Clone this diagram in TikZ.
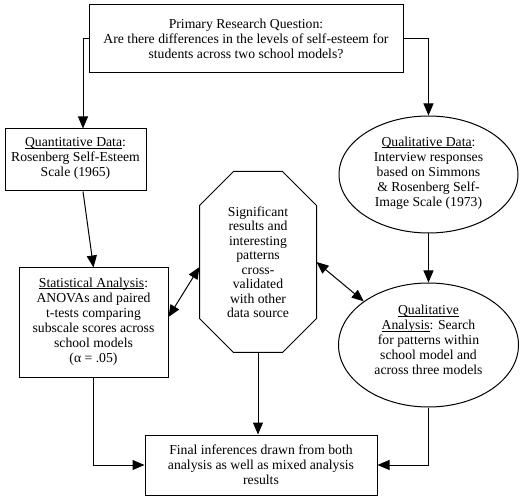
\documentclass[tikz,border=0pt]{standalone}
\usepackage{fontspec}
\setmainfont{Liberation Serif}
\usepackage{tikz}
\usetikzlibrary{arrows.meta, calc, shapes.geometric, positioning}
\newcommand{\undl}[1]{\underline{\smash{#1}}}
\tikzset{box/.style={draw, rectangle, align=center, inner sep=3pt},
    oval/.style={draw, ellipse, align=center, inner sep=0pt},
    txt/.style={font=\fontsize{13.7pt}{15pt}\selectfont}
}

\begin{document}
\begin{tikzpicture}[x=1pt, y=-1pt, >={Triangle[length=12pt, width=10pt]}, line width=1pt, txt]
        \useasboundingbox (0, 0) rectangle (520, 497);
        \node[box, minimum width=314pt, minimum height=68pt] (question) at (246, 39)
            {Primary Research Question:\\Are there differences in the levels of self-esteem for\\students across two school models?};
        \node[box, minimum width=141pt, minimum height=62pt] (quant) at (75.5, 160)
            {\undl{Quantitative Data}:\\Rosenberg Self-Esteem\\Scale (1965)};
        \node[oval, minimum width=179pt, minimum height=117pt] (qualdata) at (428.5, 174.5)
            {\undl{Qualitative Data}:\\Interview responses\\based on Simmons\\\& Rosenberg Self-\\Image Scale (1973)};
        \node[align=center, inner sep=0pt, minimum width=116pt, minimum height=180pt, font=\fontsize{13.7pt}{14.5pt}\selectfont] (cross) at (258, 262)
            {Significant\\results and\\interesting\\patterns\\cross-\\validated\\with other\\data source};
        \draw ([xshift=34pt]cross.north west) -- ([xshift=-34pt]cross.north east) -- ([yshift=-34pt]cross.north east)
            -- ([yshift=34pt]cross.south east) -- ([xshift=-34pt]cross.south east) -- ([xshift=34pt]cross.south west)
            -- ([yshift=34pt]cross.south west) -- ([yshift=-34pt]cross.north west) -- cycle;
        \node[box, minimum width=149pt, minimum height=110pt] (stat) at (93.5, 323)
            {\undl{Statistical Analysis}:\\ANOVAs and paired\\t-tests comparing\\subscale scores across\\school models\\(α = .05)};
        \node[oval, minimum width=180pt, minimum height=124pt] (qualan) at (428.5, 345)
            {\undl{Qualitative}\\\undl{Analysis}: Search\\for patterns within\\school model and\\across three models};
        \node[box, minimum width=232pt, minimum height=60pt] (final) at (261, 465)
            {Final inferences drawn from both\\analysis as well as mixed analysis\\results};

        \draw[->] (question.west) -| ([xshift=7.5pt]quant.north);
        \draw[->] (question.east) -| (qualdata.north);
        \draw[->] ([xshift=7.5pt]quant.south) -- (stat.north);
        \draw[->] (qualdata.south) -- (qualan.north);
        \draw[<->] ([yshift=6pt]stat.east) -- ([yshift=-5pt]cross.west);
        \draw[<->] (cross.east) -- (qualan.146);
        \draw[->] (cross.south) -- (cross.south |- final.north);
        \draw[->] (stat.south) |- (final.west);
        \draw[->] (qualan.south) |- (final.east);
    \end{tikzpicture}
\end{document}
